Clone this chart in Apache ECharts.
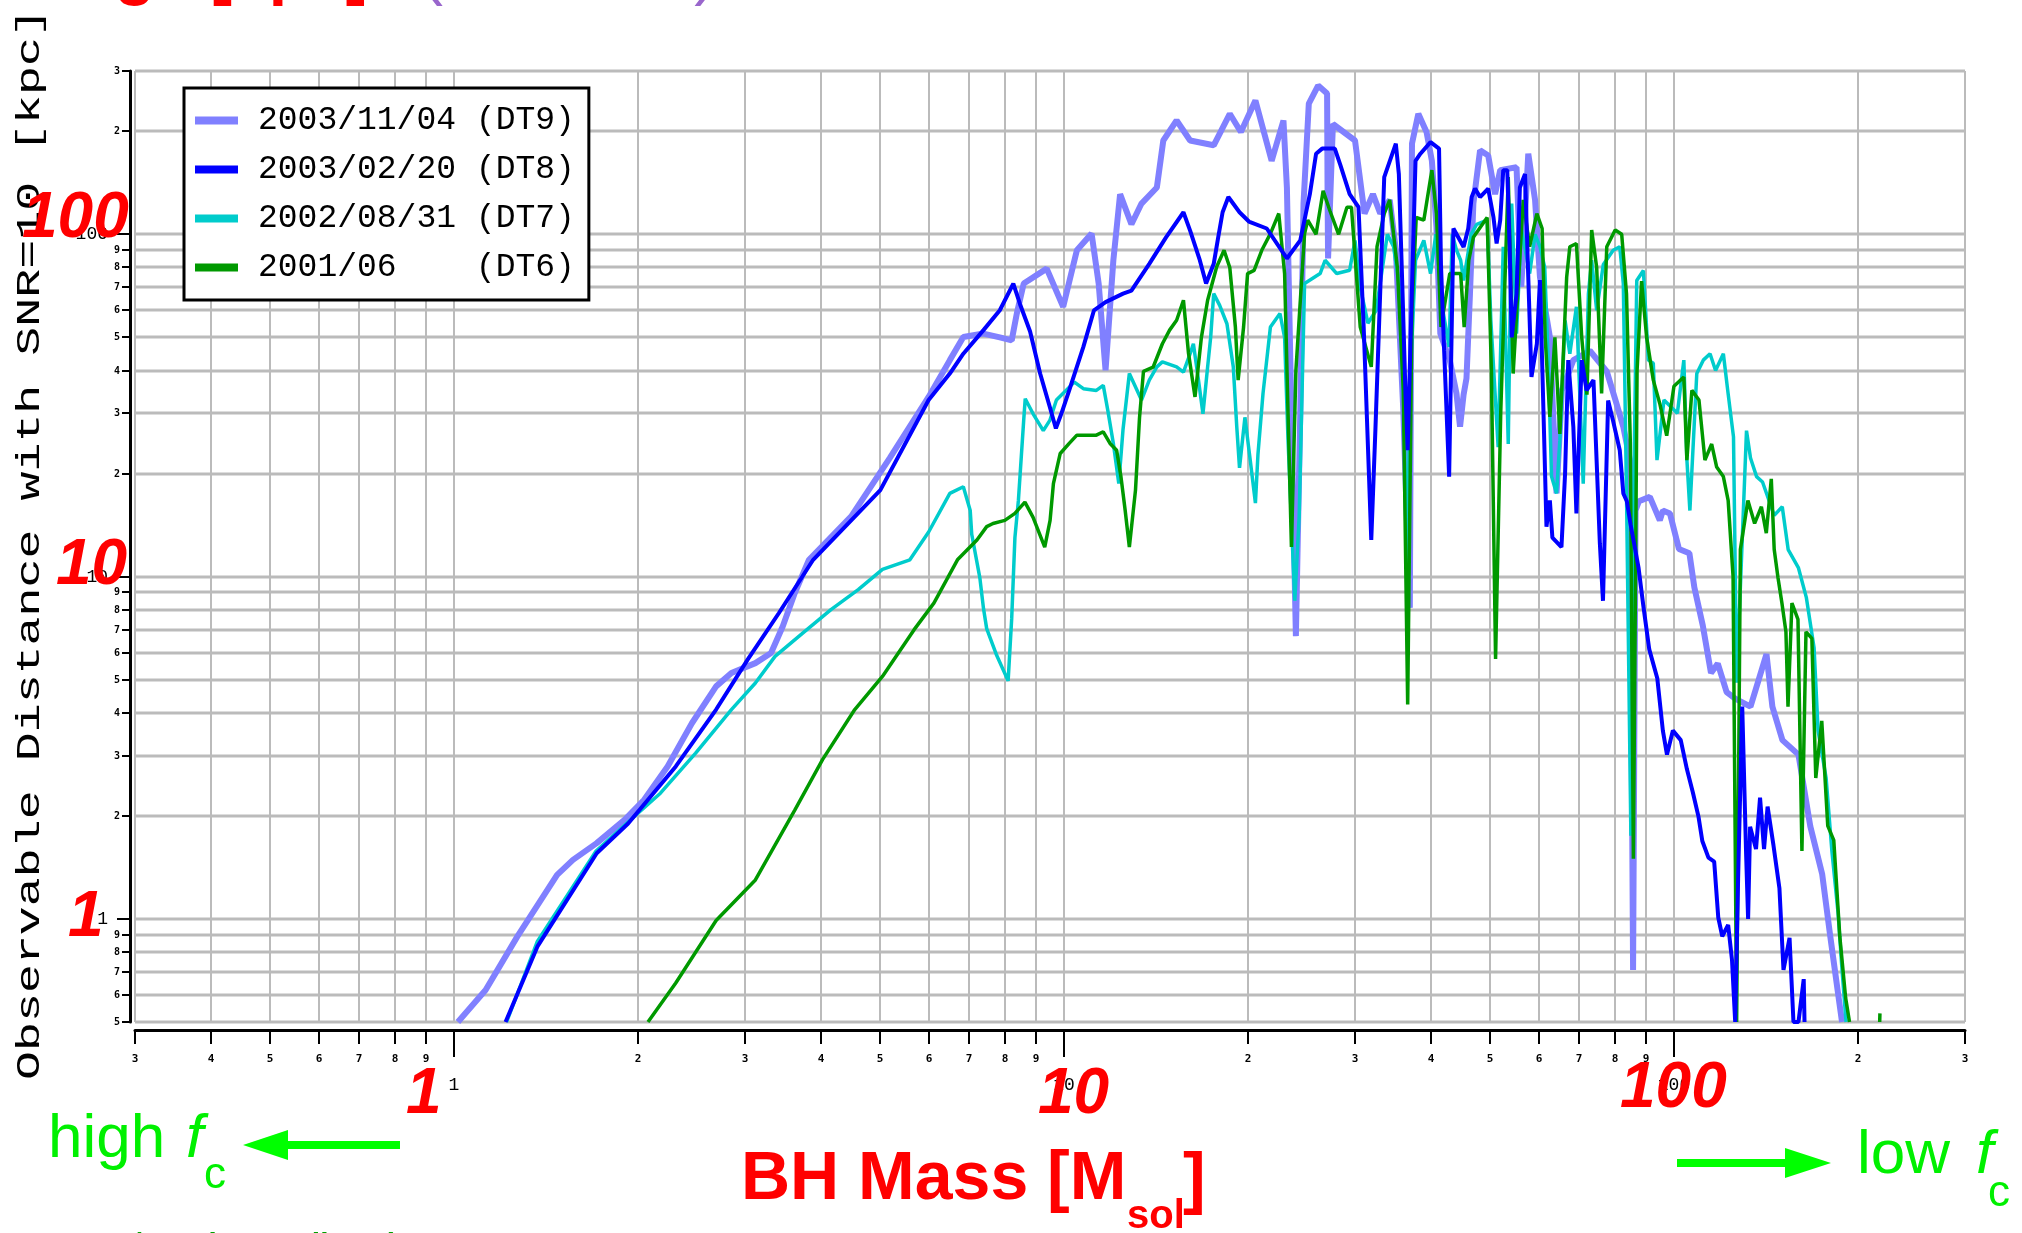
<!DOCTYPE html>
<html><head><meta charset="utf-8">
<script src="https://cdn.jsdelivr.net/npm/echarts@6/dist/echarts.min.js"></script>
<style>html,body{margin:0;padding:0;background:#fff;overflow:hidden}#c{width:2022px;height:1233px}</style>
</head><body><div id="c"></div>
<script>
// ---------- data ----------
const seriesNames = ['2003/11/04 (DT9)', '2003/02/20 (DT8)', '2002/08/31 (DT7)', '2001/06    (DT6)'];

const dt9Mass = [1.015,1.127,1.27,1.476,1.567,1.714,1.904,2.05,2.24,2.455,2.69,2.85,3.12,3.31,3.46,3.62,3.82,4.48,5.18,6.0,6.5,6.84,7.38,7.85,8.21,8.37,8.59,9.37,9.97,10.5,11.1,11.4,11.7,12.05,12.36,12.9,13.4,14.2,14.55,15.3,16.1,17.6,18.7,19.5,20.6,21.9,22.9,23.2,23.5,24.0,24.4,24.7,25.2,26.1,27.0,27.05,27.1,27.6,30.0,30.8,31.1,32.1,33.0,34.2,35.0,36.0,36.9,37.2,38.1,39.3,40.1,40.8,41.4,42.9,44.0,44.6,45.2,45.7,46.3,46.9,48.1,49.6,50.9,51.9,55.2,56.2,57.7,59.2,60.3,62.6,64.2,65.5,68.4,72.8,77.6,80.5,82.6,84.7,85.7,86.5,87.6,91.3,94.8,95.9,98.5,101.9,106,108,111.5,115,118,122,126,133.5,141.8,145,150.6,160,167.3,175,180.4,185.8,188.6];
const dt9Dist = [0.5,0.62,0.888,1.345,1.488,1.665,1.947,2.23,2.79,3.73,4.78,5.23,5.59,5.98,7.16,8.96,11.2,15,22.2,33.5,42.9,50.1,51.3,50,49,58.7,71.8,79.4,61.4,89.8,100.5,71.8,40.1,84,131,107,123,137,188,215,188,182,225,199,246,164,215,137,42.9,6.7,30,123,241,272,258,131,85,210,188,131,115,131,115,126,90,30.6,8.1,184,225,199,164,105,51.3,42.9,34.3,27.4,34,38,67,123,176,170,131,154,157,70.2,172,126,75,50.1,17.5,35,42.9,45.7,39.8,32,27.4,21.9,0.71,15.6,16.6,17.1,14.6,15.6,15.3,12.05,11.7,9.3,7.2,5.23,5.57,4.6,4.4,4.17,5.94,4.17,3.33,3.02,1.865,1.35,0.89,0.605,0.5];

const dt8Mass = [1.215,1.37,1.714,1.93,2.31,2.69,3.03,3.41,3.88,5.0,6.0,6.5,6.84,7.38,7.85,8.26,8.47,8.8,9.14,9.48,9.7,9.9,10.2,10.76,11.2,11.7,12.5,12.9,13.8,14.7,15.7,16.1,16.7,17.1,17.6,17.9,18.2,18.6,19.4,20.1,21.5,23.2,24.4,25.3,25.9,26.5,27.8,28.4,29.4,30.4,31.0,31.9,32.4,33.5,35.0,35.4,35.9,36.3,36.6,37.0,37.7,38.4,39.9,41.2,41.5,42.0,42.8,43.5,45.2,46.0,46.6,47.2,48.1,49.6,50.6,51.2,51.9,52.5,53.3,53.8,54.2,55.2,55.9,57.0,57.7,58.4,59.6,60.3,61.1,61.8,62.6,63.2,65.4,66.3,67.1,68.4,69.2,70.6,71.9,73.8,75.6,76.5,78.0,79.4,81.5,82.6,83.7,84.9,87.5,89.1,91.1,93.9,95.9,97.4,99.6,102.6,105,107.4,109.7,111.3,113.9,116.4,118.2,120,122.7,124.5,126.0,126.8,127.4,129.4,131.3,132.3,133.3,136.3,138.4,140.5,142.4,145.6,148.9,151.2,154.7,157,160,163.2,163.7];
const dt8Dist = [0.5,0.83,1.556,1.9,2.79,4.09,5.72,7.83,11.2,17.9,32.8,39.2,44.8,52.5,60,71.8,62.6,52,39.2,31.3,27.1,29.9,35,46.9,60,63.4,67.1,68.5,82,98,116,102.5,84,71.8,82,98,116,128.5,116,109,104,85,96,131,172,178,178,159,131,120,53.6,12.8,26.8,147,184,150,67,34.3,23.4,49.3,164,172,186,178,81.6,45.8,19.6,104,91.8,104,128.5,136,128.5,136,112,94,110,154,154,89.8,50,67,137,150,75,38.3,47.9,73.5,30.6,14,16.7,13,12.2,20,42.9,27.4,15.3,42.9,35,37.5,12.5,8.5,32.7,28.7,23.4,17.5,16.6,14.2,10.6,8.2,6.13,5.05,3.55,3.02,3.55,3.33,2.74,2.34,1.99,1.69,1.51,1.47,1.01,0.89,0.96,0.758,0.5,0.5,1.31,4.17,1.55,1.0,1.86,1.6,2.26,1.6,2.13,1.64,1.23,0.71,0.88,0.5,0.5,0.667,0.5];

const dt7Mass = [1.22,1.37,1.71,1.93,2.18,2.49,2.85,3.12,3.36,3.73,4.15,4.6,5.04,5.59,6.0,6.5,6.84,7.02,7.06,7.28,7.38,7.47,7.76,8.1,8.21,8.31,8.42,8.59,8.64,8.9,9.25,9.48,9.72,10.4,10.76,11.3,11.6,11.8,12.05,12.3,12.5,12.8,13.4,13.8,14.2,14.5,15.3,15.7,16.1,16.3,16.6,16.9,17.2,17.4,17.6,18.0,18.5,18.95,19.2,19.4,19.8,20.2,20.6,20.8,21.2,21.8,22.6,23.0,23.3,23.9,24.3,24.8,26.3,26.8,28.0,29.4,30.0,30.6,31.5,32.5,33.9,34.7,35.5,36.1,36.5,37.0,37.7,38.9,39.9,40.7,41.8,42.8,43.3,44.0,44.7,45.2,46.5,47.5,49.4,50.1,50.9,51.5,52.5,53.5,54.2,55.2,56.2,58.0,59.2,60.3,61.4,62.2,63.0,64.2,65.0,66.3,67.5,69.2,71.0,72.4,73.3,74.7,76.6,79.5,81.5,82.6,83.6,85.0,86.0,86.9,89.1,90.8,92.5,93.8,96.3,101.3,103.8,105,106.2,109,111.7,114.6,117,120.5,122.5,125.2,126.7,131.5,133.5,136.6,139.7,146,150.5,153.9,160,164.8,169.7,172.3,177.6,181.5,185.8,188.6,191.5];
const dt7Dist = [0.5,0.86,1.58,1.92,2.33,3.05,4.09,4.89,5.85,6.84,8.01,9.16,10.5,11.2,13.5,17.5,18.3,15.6,13.3,9.92,8.08,7.05,5.88,4.96,7.55,13.0,16.7,28.6,33.1,29.9,26.7,28.6,32.8,37,35.4,35,36.2,30.6,24.5,18.7,27,39.2,32.8,37.5,41,42.4,41,39.6,44.8,47.9,38,29.9,41,50.1,67.1,62,54.8,41,27.4,20.8,29.2,21.9,16.4,22.8,34.3,53.6,58.7,50,25,8.5,15,71.8,76.8,84,76.8,78.5,96,70,55,60,100,92,70,30,10.6,40,84,96,76.8,100,60,46.9,100,90,84,73.3,100,107,110,56,34.3,23.9,92,24.4,123,51.3,104,76.8,100,92,80,42.9,19.6,17.5,25,56,44.8,61.4,18.7,67,84,60,81.6,89.8,92,71.8,17.5,1.75,20,73.3,78.4,42.9,42,21.9,32.8,30,42.9,22,15.6,39.2,42.9,44.8,40,44.8,35,25.6,4.9,26.7,22.2,19.6,18.9,15.1,16,12,10.6,8.7,6.2,3.55,2.58,1.58,1.04,0.71,0.5];

const dt6Mass = [2.08,2.31,2.69,3.12,3.62,4.02,4.54,5.04,5.68,6.12,6.69,7.2,7.47,7.65,8.0,8.31,8.63,8.9,9.3,9.49,9.61,9.86,10.2,10.5,11.3,11.6,11.9,12.2,12.4,12.6,12.8,13.1,13.3,13.5,14.0,14.5,14.9,15.3,15.7,16.0,16.4,16.8,17.2,17.8,18.3,18.7,19.1,19.3,19.7,20.0,20.5,21.1,21.8,22.5,23.0,23.3,23.6,24.0,24.8,25.1,25.9,26.6,27.3,28.2,29.1,29.6,30.6,31.9,32.6,33.5,34.2,35.2,36.0,36.6,37.2,37.8,38.9,40.1,40.8,41.5,42.9,44.7,45.3,46.1,46.9,49.4,50.2,51.0,52.0,53.5,54.5,56.6,58.0,59.6,60.8,61.5,62.6,63.8,65.0,66.7,67.5,69.2,70.6,72.0,73.3,74.7,76.1,77.6,80.1,82.1,83.6,84.8,85.8,87.0,88.5,90.2,92.5,94.8,97.3,100,103.8,105,107,109.9,112.4,115.3,117.5,120.5,122.7,125,126.7,128.5,132.2,135.6,139.1,141.7,144.4,146,148.1,150.3,152.6,153.8,156.1,159.7,162.1,164.6,168.3,170.8,174.7,178.7,182.8,187,191.2,194,194.5,217.4,217.6];
const dt6Dist = [0.5,0.65,0.99,1.3,2.08,2.92,4.09,5.11,7.0,8.37,11.2,12.8,14,14.3,14.6,15.3,16.5,14.9,12.2,14.6,18.7,22.9,24.5,25.9,25.9,26.5,24.5,23.4,19.6,15.6,12.2,17.9,29.1,39.8,40.9,47.9,52.5,56.1,64.2,45,33.5,50,64.2,80.4,89.8,80,53.6,37.5,53.6,76.8,78.5,89.8,100.5,115,76.8,30,12.2,40,100.5,110,100,134,117,100,120,120,53.6,41,92,115,126,80,35,4.23,60,112,110,154,115,53.6,76.8,76.8,53.6,84,98,112,40,5.75,30,147,39.2,126,92,115,104,50,29.3,50,26.1,75,92,94,50,34,103,80,34.3,92,103,100,67,25,1.5,40,73,50,37.5,32,25.8,36,38.3,21.9,35,32.8,21.9,24.4,20.9,19.6,16.7,10,0.5,12,16.7,14.3,16,13.4,19.3,12,9.93,8.37,6.9,4.17,8.37,7.5,1.58,6.9,6.6,2.58,3.79,1.87,1.7,0.89,0.587,0.5,null,0.5,0.53];

const xTicks = [0.3,0.4,0.5,0.6,0.7,0.8,0.9,1,2,3,4,5,6,7,8,9,10,20,30,40,50,60,70,80,90,100,200,300];
const xTickLabels = ['3','4','5','6','7','8','9','1','2','3','4','5','6','7','8','9','10','2','3','4','5','6','7','8','9','100','2','3'];
const yTicks = [0.5,0.6,0.7,0.8,0.9,1,2,3,4,5,6,7,8,9,10,20,30,40,50,60,70,80,90,100,200,300];
const yTickLabels = ['5','6','7','8','9','1','2','3','4','5','6','7','8','9','10','2','3','4','5','6','7','8','9','100','2','3'];
const decadeValues = [1, 10, 100];
const overlayDecadeLabels = ['1', '10', '100'];

const X_MIN = 0.3, X_MAX = 300, Y_MIN = 0.5, Y_MAX = 300;

// ---------- chart ----------
const chart = echarts.init(document.getElementById('c'), null, {renderer: 'canvas', width: 2022, height: 1233});
const pairs = (ms, ds) => ms.map((m, i) => [m, ds[i]]);
const isDecade = v => decadeValues.indexOf(v) >= 0;
const MONO = '"Liberation Mono", "DejaVu Sans Mono", monospace';
const SANS = '"Liberation Sans", Arial, sans-serif';

function txt(x, y, text, o) {
  return Object.assign({type: 'text', x: x, y: y, z: 100, silent: true,
    style: Object.assign({text: text, fill: '#000', align: 'left', verticalAlign: 'middle',
      textAlign: 'left', textVerticalAlign: 'middle'}, o || {})});
}

function renderXGrid(params, api) {
  const i = params.dataIndex;
  const v = xTicks[i];
  const b = api.coord([v, Y_MIN]);
  const t = api.coord([v, Y_MAX]);
  const x = Math.round(b[0]);
  const dec = isDecade(v);
  return {type: 'group', children: [
    {type: 'line', shape: {x1: x, y1: b[1], x2: x, y2: t[1]}, style: {stroke: '#bbbbbb', lineWidth: 2}},
    {type: 'line', shape: {x1: x, y1: b[1] + 9, x2: x, y2: b[1] + 9 + (dec ? 26 : 13)}, style: {stroke: '#000', lineWidth: 2}},
    {type: 'text', x: x, y: b[1] + (dec ? 63 : 37), style: {text: xTickLabels[i], fill: '#000',
      fontFamily: dec ? MONO : '"DejaVu Sans Mono", monospace', fontSize: dec ? 18 : 11, fontWeight: dec ? 'normal' : 'bold',
      align: 'center', verticalAlign: 'middle', textAlign: 'center', textVerticalAlign: 'middle'}}
  ]};
}
function renderYGrid(params, api) {
  const i = params.dataIndex;
  const v = yTicks[i];
  const l = api.coord([X_MIN, v]);
  const r = api.coord([X_MAX, v]);
  const y = Math.round(l[1]);
  const dec = isDecade(v);
  return {type: 'group', children: [
    {type: 'line', shape: {x1: l[0], y1: y, x2: r[0], y2: y}, style: {stroke: '#bbbbbb', lineWidth: 3}},
    {type: 'line', shape: {x1: l[0] - 5, y1: y, x2: l[0] - 5 - (dec ? 13 : 8), y2: y}, style: {stroke: '#000', lineWidth: 2}},
    {type: 'text', x: l[0] - (dec ? 27 : 15), y: y, style: {text: yTickLabels[i], fill: '#000',
      fontFamily: dec ? MONO : '"DejaVu Sans Mono", monospace', fontSize: dec ? 18 : 10, fontWeight: dec ? 'normal' : 'bold',
      align: 'right', verticalAlign: 'middle', textAlign: 'right', textVerticalAlign: 'middle'}}
  ]};
}

const lineDefs = [
  {name: seriesNames[0], m: dt9Mass, d: dt9Dist, color: '#8080ff', width: 6, z: 3},
  {name: seriesNames[1], m: dt8Mass, d: dt8Dist, color: '#0000ff', width: 4, z: 6},
  {name: seriesNames[2], m: dt7Mass, d: dt7Dist, color: '#00cccc', width: 3.5, z: 4},
  {name: seriesNames[3], m: dt6Mass, d: dt6Dist, color: '#009900', width: 3.5, z: 5}
];

const series = [
  {type: 'custom', name: 'xgrid', coordinateSystem: 'cartesian2d', data: xTicks.map(v => [v, 1]),
    encode: {x: 0, y: 1}, renderItem: renderXGrid, silent: true, clip: false, z: 1},
  {type: 'custom', name: 'ygrid', coordinateSystem: 'cartesian2d', data: yTicks.map(v => [1, v]),
    encode: {x: 0, y: 1}, renderItem: renderYGrid, silent: true, clip: false, z: 1}
].concat(lineDefs.map(s => ({
  name: s.name, type: 'line', data: pairs(s.m, s.d), showSymbol: false, symbol: 'none',
  connectNulls: false, z: s.z, lineStyle: {color: s.color, width: s.width}, itemStyle: {color: s.color}
})));

const redLbl = {fill: '#ff0000', fontFamily: SANS, fontSize: 64, fontWeight: 'bold', fontStyle: 'italic'};
const green = '#00f000';

const graphic = [
  // clipped heading fragments at the very top
  txt(-10, -26, 'Range [kpc]', {fill: '#ff0000', fontFamily: SANS, fontSize: 66, fontWeight: 'bold'}),
  txt(421, -26, '(SNR=10)', {fill: '#9966cc', fontFamily: SANS, fontSize: 66}),
  // y axis title (stretched monospace)
  {type: 'text', x: 30, y: 1080, rotation: Math.PI / 2, scaleX: 1.42, z: 100, silent: true,
    style: {text: 'Observable Distance with SNR=10 [kpc]', fill: '#000', fontFamily: MONO, fontSize: 34,
      align: 'left', verticalAlign: 'middle', textAlign: 'left', textVerticalAlign: 'middle'}},
  // red decade overlays
  txt(22, 219, overlayDecadeLabels[2], redLbl),
  txt(56, 566, overlayDecadeLabels[1], redLbl),
  txt(68, 918, overlayDecadeLabels[0], redLbl),
  txt(406, 1095, overlayDecadeLabels[0], redLbl),
  txt(1038, 1095, overlayDecadeLabels[1], redLbl),
  txt(1620, 1089, overlayDecadeLabels[2], redLbl),
  // x axis title
  txt(741, 1180, 'BH Mass [M', {fill: '#ff0000', fontFamily: SANS, fontSize: 68, fontWeight: 'bold'}),
  txt(1127, 1217, 'sol', {fill: '#ff0000', fontFamily: SANS, fontSize: 40, fontWeight: 'bold'}),
  txt(1183, 1182, ']', {fill: '#ff0000', fontFamily: SANS, fontSize: 68, fontWeight: 'bold'}),
  // high f_c / low f_c
  txt(48, 1140, 'high', {fill: green, fontFamily: SANS, fontSize: 62}),
  txt(186, 1140, 'f', {fill: green, fontFamily: SANS, fontSize: 62, fontStyle: 'italic'}),
  txt(204, 1176, 'c', {fill: green, fontFamily: SANS, fontSize: 44}),
  {type: 'polygon', z: 100, silent: true, shape: {points: [[243, 1145], [288, 1130], [288, 1141], [400, 1141], [400, 1149], [288, 1149], [288, 1160]]}, style: {fill: '#00ff00'}},
  txt(1857, 1156, 'low', {fill: green, fontFamily: SANS, fontSize: 62}),
  txt(1976, 1156, 'f', {fill: green, fontFamily: SANS, fontSize: 62, fontStyle: 'italic'}),
  txt(1988, 1194, 'c', {fill: green, fontFamily: SANS, fontSize: 44}),
  {type: 'polygon', z: 100, silent: true, shape: {points: [[1831, 1163], [1785, 1148], [1785, 1159], [1677, 1159], [1677, 1167], [1785, 1167], [1785, 1178]]}, style: {fill: '#00ff00'}},
  // clipped footer fragment
  txt(0, 1246, 'DAWN 17/Dec (2003 Hilmas)', {fill: '#00a000', fontFamily: SANS, fontSize: 30, fontWeight: 'bold'})
];

chart.setOption({
  animation: false,
  backgroundColor: '#ffffff',
  grid: {left: 135, top: 71, width: 1830, height: 951, containLabel: false},
  xAxis: {type: 'log', logBase: 10, min: X_MIN, max: X_MAX, offset: 8,
    axisLine: {show: true, onZero: false, lineStyle: {color: '#000', width: 3}},
    axisTick: {show: false}, axisLabel: {show: false}, splitLine: {show: false}, minorSplitLine: {show: false}},
  yAxis: {type: 'log', logBase: 10, min: Y_MIN, max: Y_MAX, offset: 5,
    axisLine: {show: true, onZero: false, lineStyle: {color: '#000', width: 3}},
    axisTick: {show: false}, axisLabel: {show: false}, splitLine: {show: false}, minorSplitLine: {show: false}},
  legend: {data: seriesNames, orient: 'vertical', left: 184, top: 88, selectedMode: false,
    backgroundColor: '#ffffff', borderColor: '#000', borderWidth: 3, padding: [8, 14, 8, 11],
    itemGap: 0, itemWidth: 43, itemHeight: 8, icon: 'rect',
    textStyle: {fontFamily: MONO, fontSize: 33, color: '#000', lineHeight: 49, padding: [0, 0, 0, 15]}},
  graphic: graphic,
  series: series
});
</script></body></html>
